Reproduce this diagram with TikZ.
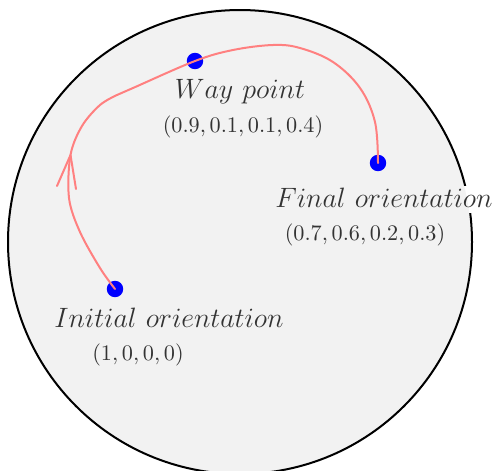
\documentclass[tikz,border=0pt]{standalone}
\usepackage{xcolor}
\usepackage{graphicx}
\definecolor{discgray}{HTML}{F2F2F2}
\definecolor{pathred}{HTML}{FF8080}
\definecolor{txtgray}{HTML}{333333}
\newcommand{\biglabeltext}[1]{\scalebox{1.05}{\large$#1$}}
\begin{document}
\begin{tikzpicture}[x=0.45pt,y=-0.45pt,
  dot/.style={circle,fill=blue,inner sep=0pt,minimum size=7.4pt},
  biglbl/.style={text=txtgray,inner sep=0pt},
  smalllbl/.style={text=txtgray,font=\normalsize,inner sep=0pt},
  trajectory/.style={draw=pathred,line width=0.9pt,line cap=round,line join=round}]
\useasboundingbox (0,0) rectangle (493,470);
\clip (0,0) rectangle (493,470);
% sphere
\draw[fill=discgray,line width=0.9pt] (240,242) circle [radius=232*0.45pt];
% patch behind the final-orientation label (hides the rim)
\fill[white] (272,186) rectangle (493,213);
\begin{scope}
  \clip (240,242) circle [radius=231*0.45pt];
  \fill[discgray] (272,186) rectangle (493,213);
\end{scope}
% points
\node[dot] (ini) at (115,289) {};
\node[dot] (way) at (195,61) {};
\node[dot] (fin) at (378,163) {};
% labels
\node[biglbl] (wayl) at (240,92) {\biglabeltext{Way\ point}};
\node[smalllbl] (wayc) at (243,127) {$(0.9,0.1,0.1,0.4)$};
\node[biglbl] (finl) at (384,198) {\biglabeltext{Final\ orientation}};
\node[smalllbl] (finc) at (365,235) {$(0.7,0.6,0.2,0.3)$};
\node[biglbl] (inil) at (169,318) {\biglabeltext{Initial\ orientation}};
\node[smalllbl] (inic) at (138,355) {$(1,0,0,0)$};
% trajectory
\coordinate (tip) at (70.5,155);
\draw[trajectory] plot[smooth,tension=0.55] coordinates
  {(ini.center) (100,268) (80,232) (69,198) (tip) (82,126) (100,105) (117,95)};
\draw[trajectory] plot[smooth,tension=0.6] coordinates
  {(117,95) (133,88) (way.center) (233,50) (273,45) (300,48) (333,62) (360,88) (375,122) (fin.center)};
% open arrowhead
\draw[trajectory] (57,186) -- (tip) -- (76,189);
\end{tikzpicture}
\end{document}
